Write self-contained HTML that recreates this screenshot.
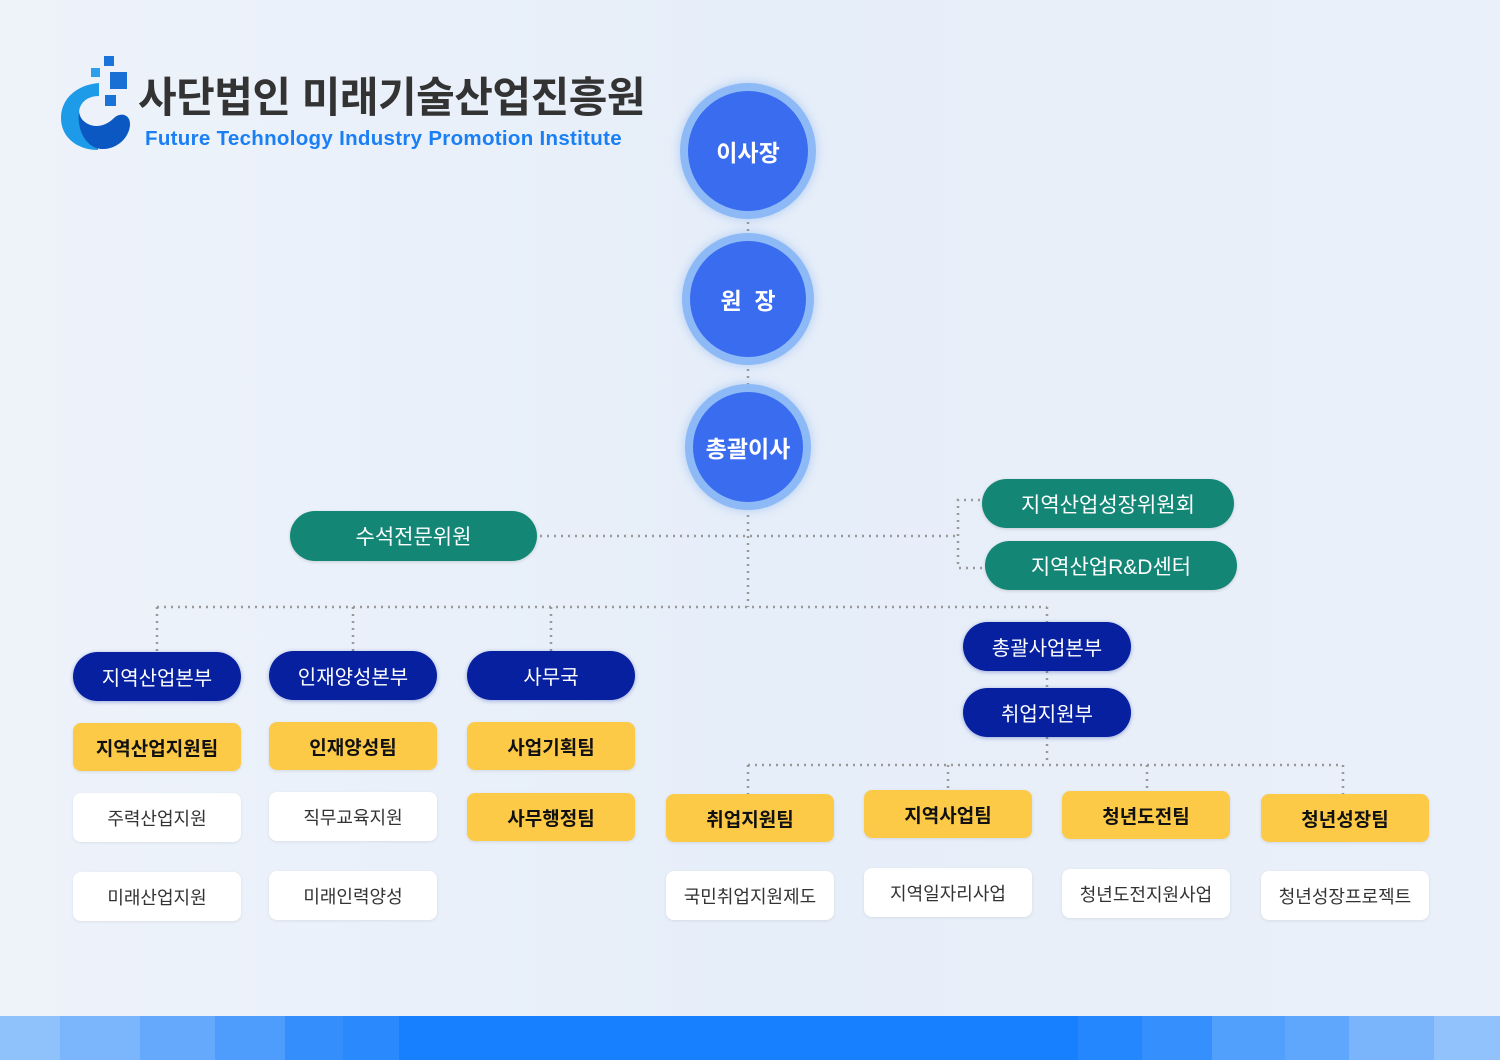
<!DOCTYPE html>
<html><head><meta charset="utf-8"><style>
*{margin:0;padding:0;box-sizing:border-box}
body{width:1500px;height:1060px;position:relative;overflow:hidden;background:linear-gradient(90deg,#eef3fa 0%,#e6eef9 50%,#eaf0f9 100%);font-family:"Liberation Sans","Noto Sans CJK KR",sans-serif}
.b{position:absolute;display:flex;align-items:center;justify-content:center;font-size:20px;white-space:nowrap}
.d{background:#0620a0;color:#fff;border-radius:25px;box-shadow:0 1px 4px rgba(6,32,160,.35)}
.t{background:#138676;color:#fff;border-radius:25px;font-size:21px;box-shadow:0 1px 3px rgba(0,0,0,.15)}
.y{background:#fdca48;color:#111;border-radius:8px;font-weight:bold;font-size:19px;box-shadow:0 1px 3px rgba(0,0,0,.1)}
.w{background:#fff;color:#333;border-radius:8px;font-size:18px;box-shadow:0 1px 3px rgba(0,0,0,.08)}
.c{position:absolute;border-radius:50%;background:#3a6cf0;border:8px solid #8dbaf6;color:#fff;font-weight:bold;font-size:23px;display:flex;align-items:center;justify-content:center;box-shadow:0 0 10px rgba(120,170,240,.5)}
</style></head><body>
<svg width="1500" height="1060" style="position:absolute;left:0;top:0">
<g stroke="#999" stroke-width="2.5" stroke-dasharray="2 5" fill="none">
<line x1="748" y1="215" x2="748" y2="236"/>
<line x1="748" y1="362" x2="748" y2="388"/>
<line x1="748" y1="508" x2="748" y2="607"/>
<line x1="540" y1="536" x2="958" y2="536"/>
<polyline points="980,500 958,500 958,568 983,568"/>
<line x1="157" y1="607" x2="1047" y2="607"/>
<line x1="157" y1="607" x2="157" y2="652"/>
<line x1="353" y1="607" x2="353" y2="651"/>
<line x1="551" y1="607" x2="551" y2="651"/>
<line x1="1047" y1="607" x2="1047" y2="622"/>
<line x1="1047" y1="671" x2="1047" y2="688"/>
<line x1="1047" y1="737" x2="1047" y2="765"/>
<line x1="748" y1="765" x2="1343" y2="765"/>
<line x1="748" y1="765" x2="748" y2="794"/>
<line x1="948" y1="765" x2="948" y2="790"/>
<line x1="1147" y1="765" x2="1147" y2="791"/>
<line x1="1343" y1="765" x2="1343" y2="794"/>
</g>
<g>
<path d="M99,83 C75,85 61,100 61,118 C61,138 78,150 98,150 L98,128 C86,126 78,120 79,112 C80,102 88,96 99,96 Z" fill="#1d9be8"/>
<path d="M79,110 C76,135 90,150 104,149 C120,148 130,135 130,124 C130,114 120,112 114,118 C106,126 96,128 88,124 C82,121 79,116 79,110 Z" fill="#0b58c2"/>
<rect x="104" y="56" width="10" height="10" fill="#1a73d8"/>
<rect x="91" y="68" width="9" height="9" fill="#2aa0ec"/>
<rect x="110" y="72" width="17" height="17" fill="#1a6fd4"/>
<rect x="105" y="95" width="11" height="11" fill="#1a73d8"/>
</g>
<rect x="0" y="1016" width="1500" height="44" fill="#1780ff"/>
<rect x="0" y="1016" width="60" height="44" fill="#8fc1fb"/><rect x="60" y="1016" width="80" height="44" fill="#7bb5fb"/><rect x="140" y="1016" width="75" height="44" fill="#64a9fc"/><rect x="215" y="1016" width="70" height="44" fill="#4e9dfc"/><rect x="285" y="1016" width="58" height="44" fill="#348ffc"/><rect x="343" y="1016" width="56" height="44" fill="#2a89fd"/>
<rect x="1078" y="1016" width="64" height="44" fill="#2487fd"/><rect x="1142" y="1016" width="70" height="44" fill="#358ffc"/><rect x="1212" y="1016" width="73" height="44" fill="#51a0fc"/><rect x="1285" y="1016" width="64" height="44" fill="#5fa7fc"/><rect x="1349" y="1016" width="85" height="44" fill="#7ab5fb"/><rect x="1434" y="1016" width="66" height="44" fill="#91c2fb"/>
</svg>
<div style="position:absolute;left:138px;top:64px;font-size:42px;font-weight:bold;color:#333;letter-spacing:-0.5px">사단법인 미래기술산업진흥원</div>
<div style="position:absolute;left:145px;top:127px;font-size:20.5px;font-weight:bold;color:#1a7ff5;letter-spacing:0.3px">Future Technology Industry Promotion Institute</div>

<div class="c" style="left:680px;top:83px;width:136px;height:136px">이사장</div>
<div class="c" style="left:682px;top:233px;width:132px;height:132px">원&nbsp;&nbsp;장</div>
<div class="c" style="left:685px;top:384px;width:126px;height:126px">총괄이사</div>

<div class="b t" style="left:290px;top:511px;width:247px;height:50px">수석전문위원</div>
<div class="b t" style="left:982px;top:479px;width:252px;height:49px">지역산업성장위원회</div>
<div class="b t" style="left:985px;top:541px;width:252px;height:49px">지역산업R&amp;D센터</div>

<div class="b d" style="left:73px;top:652px;width:168px;height:49px">지역산업본부</div>
<div class="b d" style="left:269px;top:651px;width:168px;height:49px">인재양성본부</div>
<div class="b d" style="left:467px;top:651px;width:168px;height:49px">사무국</div>
<div class="b d" style="left:963px;top:622px;width:168px;height:49px">총괄사업본부</div>
<div class="b d" style="left:963px;top:688px;width:168px;height:49px">취업지원부</div>

<div class="b y" style="left:73px;top:723px;width:168px;height:48px">지역산업지원팀</div>
<div class="b y" style="left:269px;top:722px;width:168px;height:48px">인재양성팀</div>
<div class="b y" style="left:467px;top:722px;width:168px;height:48px">사업기획팀</div>
<div class="b y" style="left:467px;top:793px;width:168px;height:48px">사무행정팀</div>
<div class="b w" style="left:73px;top:793px;width:168px;height:49px">주력산업지원</div>
<div class="b w" style="left:269px;top:792px;width:168px;height:49px">직무교육지원</div>
<div class="b w" style="left:73px;top:872px;width:168px;height:49px">미래산업지원</div>
<div class="b w" style="left:269px;top:871px;width:168px;height:49px">미래인력양성</div>

<div class="b y" style="left:666px;top:794px;width:168px;height:48px">취업지원팀</div>
<div class="b y" style="left:864px;top:790px;width:168px;height:48px">지역사업팀</div>
<div class="b y" style="left:1062px;top:791px;width:168px;height:48px">청년도전팀</div>
<div class="b y" style="left:1261px;top:794px;width:168px;height:48px">청년성장팀</div>
<div class="b w" style="left:666px;top:871px;width:168px;height:49px">국민취업지원제도</div>
<div class="b w" style="left:864px;top:868px;width:168px;height:49px">지역일자리사업</div>
<div class="b w" style="left:1062px;top:869px;width:168px;height:49px">청년도전지원사업</div>
<div class="b w" style="left:1261px;top:871px;width:168px;height:49px">청년성장프로젝트</div>
</body></html>
